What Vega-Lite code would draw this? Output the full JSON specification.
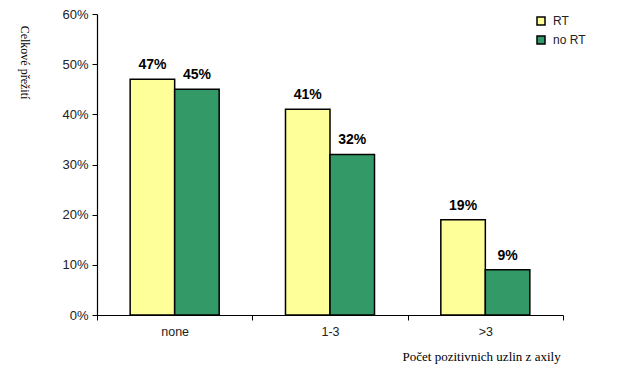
{
  "$schema": "https://vega.github.io/schema/vega-lite/v6.json",
  "width": 466,
  "height": 301,
  "autosize": {"type": "none"},
  "padding": {"left": 97, "top": 14, "right": 74, "bottom": 70},
  "background": "white",
  "config": {
    "view": {"stroke": null},
    "font": "Liberation Sans"
  },
  "data": {
    "values": [
      {"cat": "none", "group": "RT", "value": 0.47, "label": "47%"},
      {"cat": "none", "group": "no RT", "value": 0.45, "label": "45%"},
      {"cat": "1-3", "group": "RT", "value": 0.41, "label": "41%"},
      {"cat": "1-3", "group": "no RT", "value": 0.32, "label": "32%"},
      {"cat": ">3", "group": "RT", "value": 0.19, "label": "19%"},
      {"cat": ">3", "group": "no RT", "value": 0.09, "label": "9%"}
    ]
  },
  "encoding": {
    "x": {
      "field": "cat",
      "type": "nominal",
      "sort": ["none", "1-3", ">3"],
      "scale": {"paddingInner": 0, "paddingOuter": 0},
      "axis": {
        "title": "Počet pozitivnich uzlin z axily",
        "titleFont": "Liberation Serif",
        "titleFontSize": 13,
        "titleFontWeight": "normal",
        "titleColor": "black",
        "titleAlign": "left",
        "titleBaseline": "middle",
        "titleX": 305,
        "titleY": 41,
        "labelAngle": 0,
        "labelFontSize": 12.5,
        "labelColor": "#222222",
        "labelPadding": 5,
        "tickBand": "extent",
        "tickSize": 5,
        "tickColor": "black",
        "domainColor": "black",
        "domainWidth": 1.2,
        "tickWidth": 1
      }
    },
    "xOffset": {
      "field": "group",
      "type": "nominal",
      "sort": ["RT", "no RT"],
      "scale": {"paddingInner": 0, "paddingOuter": 0.745}
    },
    "y": {
      "field": "value",
      "type": "quantitative",
      "scale": {"domain": [0, 0.6], "nice": false},
      "axis": {
        "format": ".0%",
        "values": [0, 0.1, 0.2, 0.3, 0.4, 0.5, 0.6],
        "labelOverlap": false,
        "grid": false,
        "title": "Celkové přežití",
        "titleFont": "Liberation Serif",
        "titleFontSize": 12,
        "titleFontWeight": "normal",
        "titleColor": "black",
        "titleAngle": 90,
        "titleAlign": "center",
        "titleBaseline": "middle",
        "titleX": -73,
        "titleY": 48,
        "labelFontSize": 13,
        "labelColor": "#222222",
        "labelPadding": 4,
        "tickSize": 5,
        "tickColor": "black",
        "domainColor": "black",
        "domainWidth": 1.2
      }
    }
  },
  "layer": [
    {
      "mark": {"type": "bar", "stroke": "black", "strokeWidth": 1.5},
      "encoding": {
        "color": {
          "field": "group",
          "type": "nominal",
          "sort": ["RT", "no RT"],
          "scale": {"domain": ["RT", "no RT"], "range": ["#FFFF99", "#339966"]},
          "legend": {
            "title": null,
            "orient": "none",
            "legendX": 438,
            "legendY": 1,
            "symbolType": "square",
            "symbolSize": 64,
            "symbolStrokeColor": "black",
            "symbolStrokeWidth": 1.5,
            "symbolOpacity": 1,
            "labelFontSize": 12,
            "labelColor": "#222222",
            "rowPadding": 5,
            "labelOffset": 6
          }
        }
      }
    },
    {
      "mark": {"type": "text", "baseline": "bottom", "dy": -7, "fontSize": 14, "fontWeight": "bold", "color": "black"},
      "encoding": {
        "text": {"field": "label", "type": "nominal"}
      }
    }
  ]
}
